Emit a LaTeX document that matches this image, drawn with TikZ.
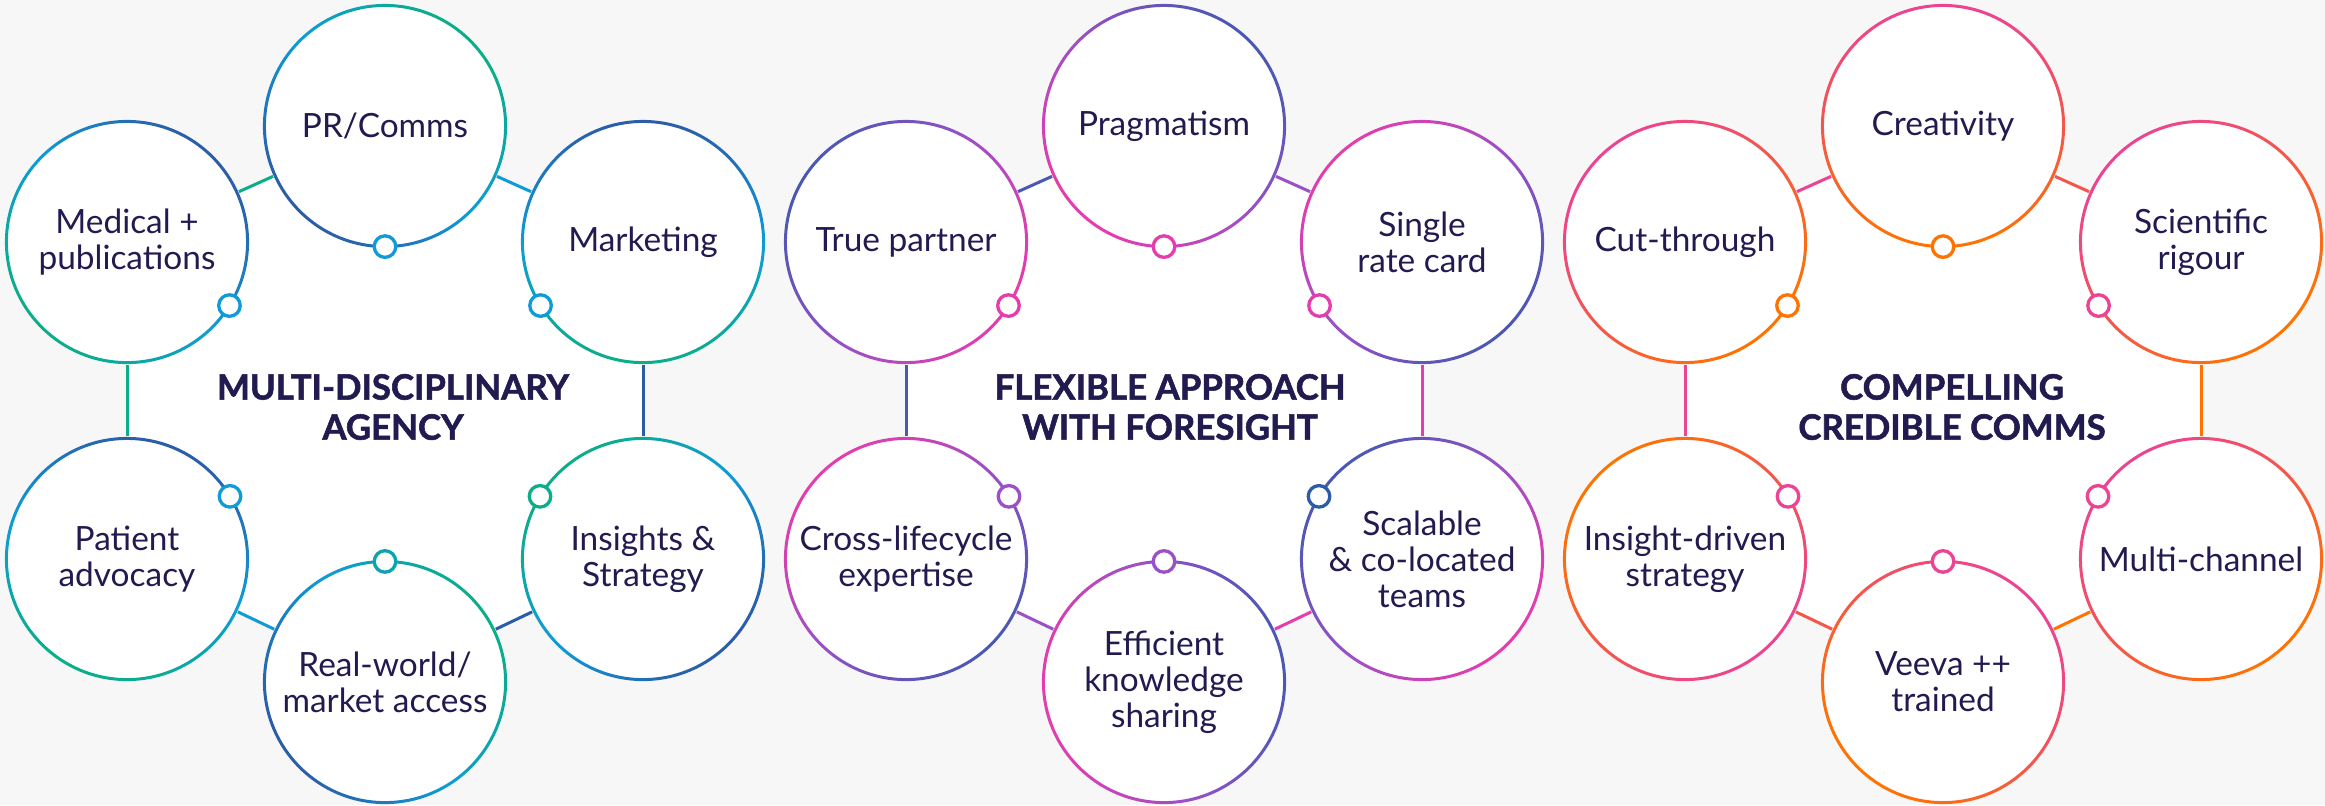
\documentclass[tikz,border=0pt]{standalone}
\usepackage{fontspec}
\setmainfont{Lato}
\newfontfamily\heavyfont{Lato}[BoldFeatures={FakeBold=1.6}]
\usetikzlibrary{calc, backgrounds}

\definecolor{inkNavy}{HTML}{221B50}
\definecolor{paperGray}{HTML}{F7F7F7}
\definecolor{agDark}{HTML}{2B5CA8}
\definecolor{agLight}{HTML}{0E9BD8}
\definecolor{agGreen}{HTML}{0BAE88}
\definecolor{flIndigo}{HTML}{4A58B3}
\definecolor{flPurple}{HTML}{9A50C6}
\definecolor{flMagenta}{HTML}{E63CAE}
\definecolor{ccPink}{HTML}{EC4394}
\definecolor{ccRed}{HTML}{F4574A}
\definecolor{ccOrange}{HTML}{FF7400}

\tikzset{
    mybubble/.style = {
        circle,
        fill=white,
        minimum size=2.44cm,
        inner sep=0pt,
        align=center,
        text=inkNavy,
        font=\fontsize{9.5}{10.2}\selectfont
    },
    mytitle/.style = {
        align=center,
        text=inkNavy,
        font=\heavyfont\bfseries\fontsize{9.9}{11.4}\selectfont
    },
    myring/.style n args = {4}{
        even odd rule,
        top color=#1,
        bottom color=#2,
        middle color=#3,
        shading angle=#4
    },
    myedge/.style = {
        line width=0.03cm
    },
    mydot/.style = {
        circle,
        fill=white,
        draw=#1,
        line width=0.033cm,
        minimum size=0.215cm,
        inner sep=0pt
    }
}

\begin{document}
\begin{tikzpicture}[x=0.01cm, y=-0.01cm]

\useasboundingbox (0,0) rectangle (2325,805);

% centres of the three groups
\coordinate (hubA) at (385,402);
\coordinate (hubB) at (1164,402);
\coordinate (hubC) at (1943,402);

% Multi-disciplinary agency
\node (prcomms) [mybubble] at (385,126) {PR/Comms};
\node (medical) [mybubble] at (127,242) {Medical +\\publications};
\node (marketing) [mybubble] at (643,242) {Marketing};
\node (patient) [mybubble] at (127,559) {Patient\\advocacy};
\node (insights) [mybubble] at (643,559) {Insights \&\\Strategy};
\node (realworld) [mybubble] at (385,682) {Real-world/\\market access};
\node (titleA) [mytitle] at (393,407) {MULTI-DISCIPLINARY\\AGENCY};

% Flexible approach
\node (pragmatism) [mybubble] at (1164,126) {Pragmatism};
\node (truepartner) [mybubble] at (906,242) {True partner};
\node (singlerate) [mybubble] at (1422,242) {Single\\rate card};
\node (crosslife) [mybubble] at (906,559) {Cross-lifecycle\\expertise};
\node (scalable) [mybubble] at (1422,559) {Scalable\\\& co-located\\teams};
\node (efficient) [mybubble] at (1164,682) {Efficient\\knowledge\\sharing};
\node (titleB) [mytitle] at (1170,407) {FLEXIBLE APPROACH\\WITH FORESIGHT};

% Compelling credible comms
\node (creativity) [mybubble] at (1943,126) {Creativity};
\node (cutthrough) [mybubble] at (1685,242) {Cut-through};
\node (scientific) [mybubble] at (2201,242) {Scientific\\rigour};
\node (insightdriven) [mybubble] at (1685,559) {Insight-driven\\strategy};
\node (multichannel) [mybubble] at (2201,559) {Multi-channel};
\node (veeva) [mybubble] at (1943,682) {Veeva ++\\trained};
\node (titleC) [mytitle] at (1952,407) {COMPELLING\\CREDIBLE COMMS};

% paper and white hexagons behind the bubbles
\begin{scope}[on background layer]
\fill[paperGray] (0,0) rectangle (2325,805);
\fill[white] (prcomms.center) -- (marketing.center) -- (insights.center) -- (realworld.center) -- (patient.center) -- (medical.center) -- cycle;
\fill[white] (pragmatism.center) -- (singlerate.center) -- (scalable.center) -- (efficient.center) -- (crosslife.center) -- (truepartner.center) -- cycle;
\fill[white] (creativity.center) -- (scientific.center) -- (multichannel.center) -- (veeva.center) -- (insightdriven.center) -- (cutthrough.center) -- cycle;
\end{scope}

% hexagon edges
\draw [myedge, agGreen] (medical) -- (prcomms);
\draw [myedge, agLight] (prcomms) -- (marketing);
\draw [myedge, agDark] (marketing) -- (insights);
\draw [myedge, agDark] (insights) -- (realworld);
\draw [myedge, agLight] (realworld) -- (patient);
\draw [myedge, agGreen] (patient) -- (medical);

\draw [myedge, flIndigo] (truepartner) -- (pragmatism);
\draw [myedge, flPurple] (pragmatism) -- (singlerate);
\draw [myedge, flMagenta] (singlerate) -- (scalable);
\draw [myedge, flMagenta] (scalable) -- (efficient);
\draw [myedge, flPurple] (efficient) -- (crosslife);
\draw [myedge, flIndigo] (crosslife) -- (truepartner);

\draw [myedge, ccPink] (cutthrough) -- (creativity);
\draw [myedge, ccRed] (creativity) -- (scientific);
\draw [myedge, ccOrange] (scientific) -- (multichannel);
\draw [myedge, ccOrange] (multichannel) -- (veeva);
\draw [myedge, ccRed] (veeva) -- (insightdriven);
\draw [myedge, ccPink] (insightdriven) -- (cutthrough);

% gradient rings
\foreach \n/\ca/\cb/\cm/\ang in {
    prcomms/agGreen/agDark/agLight/-45, medical/agDark/agGreen/agLight/-45,
    marketing/agDark/agGreen/agLight/0, patient/agDark/agGreen/agLight/-20,
    insights/agGreen/agDark/agLight/45, realworld/agGreen/agDark/agLight/-60,
    pragmatism/flIndigo/flMagenta/flPurple/-45, truepartner/flIndigo/flMagenta/flPurple/60,
    singlerate/flMagenta/flIndigo/flPurple/45, crosslife/flMagenta/flIndigo/flPurple/45,
    efficient/flIndigo/flMagenta/flPurple/-80, scalable/flIndigo/flMagenta/flPurple/50,
    creativity/ccPink/ccOrange/ccRed/0, cutthrough/ccPink/ccOrange/ccRed/45,
    scientific/ccPink/ccOrange/ccRed/45, insightdriven/ccOrange/ccPink/ccRed/45,
    multichannel/ccPink/ccOrange/ccRed/45, veeva/ccPink/ccOrange/ccRed/-45}
    \shade [myring={\ca}{\cb}{\cm}{\ang}] (\n.center) circle (1.22cm) (\n.center) circle (1.19cm);

% small joints facing the centre
\foreach \n/\hub/\c in {
    prcomms/hubA/agLight, medical/hubA/agLight, marketing/hubA/agLight,
    patient/hubA/agLight, insights/hubA/agGreen, realworld/hubA/agGreen!50!agLight,
    pragmatism/hubB/flMagenta, truepartner/hubB/flMagenta, singlerate/hubB/flMagenta,
    crosslife/hubB/flPurple, efficient/hubB/flPurple, scalable/hubB/agDark,
    creativity/hubC/ccOrange, cutthrough/hubC/ccOrange, scientific/hubC/ccPink,
    insightdriven/hubC/ccPink, multichannel/hubC/ccPink, veeva/hubC/ccPink}
    \node (dot-\n) [mydot=\c] at ($(\n.center)!1.205cm!(\hub)$) {};

\end{tikzpicture}
\end{document}
